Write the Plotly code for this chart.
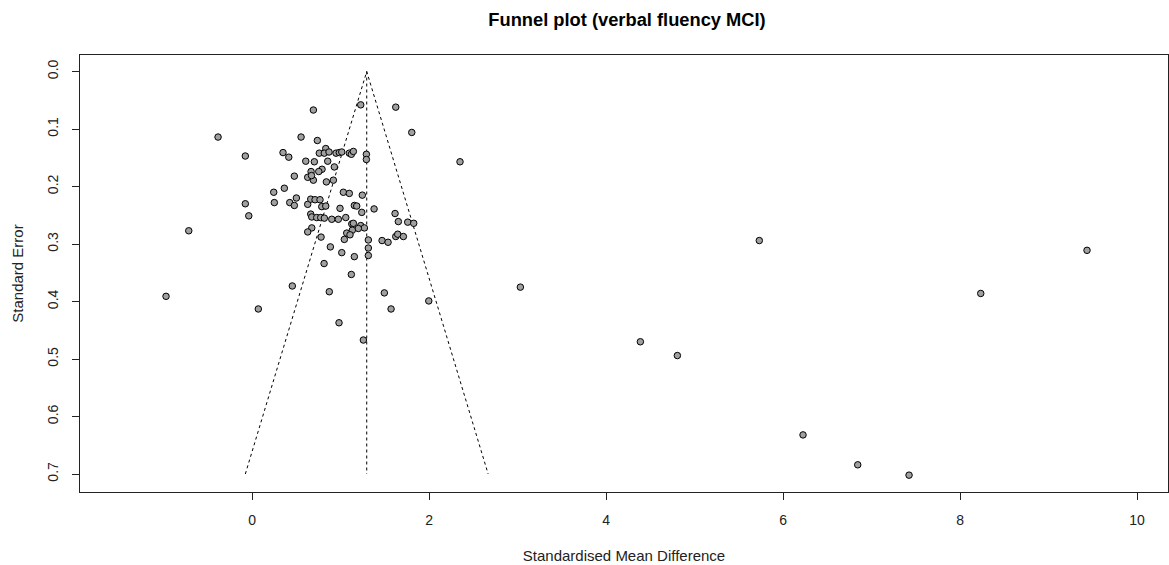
import plotly.graph_objects as go

# Study effect sizes (standardised mean difference) and standard errors
smd = [3.032, 5.732, 4.388, 4.806, 6.226, 6.844, 7.424, 8.234, 9.435, 2.350,
       -0.384, 0.554, -0.076, 0.350, 0.415, 0.607, 0.478, 0.629, 0.365, 0.245,
       0.252, 0.501, 0.426, 0.478, -0.076, 0.629, -0.037, -0.715, -0.972, 0.455,
       0.071, 0.693, 1.228, 1.624, 1.805, 0.738, 0.704, 0.855, 0.833, 0.760,
       0.817, 0.870, 0.949, 0.986, 1.014, 1.099, 1.122, 1.145, 1.292, 1.292,
       0.930, 0.791, 0.754, 0.667, 0.693, 0.672, 0.840, 0.919, 1.032, 1.099,
       1.246, 0.663, 0.712, 0.768, 0.788, 0.833, 0.994, 1.156, 1.183, 1.379,
       1.240, 1.616, 0.663, 0.675, 0.731, 0.776, 0.817, 0.901, 0.975, 1.059,
       1.127, 1.145, 1.228, 1.269, 1.201, 1.133, 1.070, 1.107, 1.043, 0.675,
       0.629, 0.780, 0.885, 1.014, 1.156, 0.814, 1.122, 0.873, 0.983, 1.258,
       1.314, 1.314, 1.314, 1.469, 1.537, 1.653, 1.759, 1.827, 1.624, 1.646,
       1.710, 1.495, 1.571, 1.997]
se = [0.375, 0.294, 0.470, 0.494, 0.632, 0.684, 0.702, 0.386, 0.311, 0.157,
      0.114, 0.114, 0.147, 0.141, 0.149, 0.156, 0.182, 0.184, 0.203, 0.210,
      0.228, 0.220, 0.228, 0.233, 0.230, 0.231, 0.251, 0.277, 0.391, 0.373,
      0.413, 0.067, 0.058, 0.062, 0.106, 0.120, 0.157, 0.156, 0.134, 0.142,
      0.142, 0.140, 0.142, 0.141, 0.140, 0.142, 0.144, 0.139, 0.144, 0.153,
      0.166, 0.170, 0.174, 0.174, 0.189, 0.181, 0.192, 0.189, 0.210, 0.212,
      0.215, 0.222, 0.223, 0.223, 0.235, 0.234, 0.238, 0.233, 0.234, 0.239,
      0.245, 0.247, 0.248, 0.253, 0.254, 0.254, 0.255, 0.257, 0.257, 0.254,
      0.265, 0.264, 0.268, 0.272, 0.273, 0.276, 0.281, 0.284, 0.292, 0.272,
      0.279, 0.288, 0.305, 0.315, 0.322, 0.334, 0.353, 0.383, 0.437, 0.467,
      0.293, 0.307, 0.320, 0.294, 0.297, 0.261, 0.262, 0.264, 0.287, 0.283,
      0.287, 0.385, 0.413, 0.399]

summary_est = 1.296
se_max = 0.70
x_ticks = [0, 2, 4, 6, 8, 10]
y_ticks = [0.0, 0.1, 0.2, 0.3, 0.4, 0.5, 0.6, 0.7]
y_tick_labels = ["0.0", "0.1", "0.2", "0.3", "0.4", "0.5", "0.6", "0.7"]

fig = go.Figure()

# funnel (pseudo 95% CI) lines
fig.add_trace(go.Scatter(
    x=[summary_est - 1.96 * se_max, summary_est, summary_est + 1.96 * se_max],
    y=[se_max, 0.0, se_max],
    mode="lines", line=dict(color="black", width=1, dash="dot"),
    hoverinfo="skip", showlegend=False))
fig.add_trace(go.Scatter(
    x=[summary_est, summary_est], y=[0.0, se_max],
    mode="lines", line=dict(color="black", width=1, dash="dot"),
    hoverinfo="skip", showlegend=False))

fig.add_trace(go.Scatter(
    x=smd, y=se, mode="markers",
    marker=dict(size=6.5, color="#a0a0a0", line=dict(color="black", width=1)),
    showlegend=False))

font_family = "Liberation Sans, Arial, sans-serif"
fig.update_layout(
    width=1169, height=565, autosize=False,
    margin=dict(l=80, r=1, t=55, b=73, autoexpand=False),
    paper_bgcolor="white", plot_bgcolor="white",
    font=dict(family=font_family, size=12, color="#222"),
    title=dict(text="<b>Funnel plot (verbal fluency MCI)</b>",
               xref="paper", x=(627 - 80) / (1168 - 80), xanchor="center",
               yref="container", y=1 - 20 / 565, yanchor="middle",
               automargin=False,
               font=dict(size=18.3, color="black")),
    xaxis=dict(range=[-1.944, 10.350], tickvals=x_ticks,
               showgrid=False, zeroline=False, automargin=False,
               showline=True, mirror=True, linecolor="#222", linewidth=1,
               ticks="outside", ticklen=7, tickcolor="#222",
               ticklabelstandoff=8,
               tickfont=dict(size=14),
               title=dict(text="Standardised Mean Difference", standoff=23,
                          font=dict(size=15))),
    yaxis=dict(range=[0.7313, -0.0287], tickvals=y_ticks, ticktext=y_tick_labels,
               tickangle=-90,
               showgrid=False, zeroline=False, automargin=False,
               showline=True, mirror=True, linecolor="#222", linewidth=1,
               ticks="outside", ticklen=7, tickcolor="#222",
               ticklabelstandoff=8,
               tickfont=dict(size=14),
               title=dict(text="Standard Error", standoff=18,
                          font=dict(size=15))),
)

post = ("document.body.style.margin='0';"
        "document.body.style.overflow='hidden';"
        "var gd=document.getElementById('{plot_id}');"
        "Plotly.relayout(gd,{width:1169,height:565});")
fig.write_html("out.html", config={"responsive": False, "displayModeBar": False},
               post_script=post)
